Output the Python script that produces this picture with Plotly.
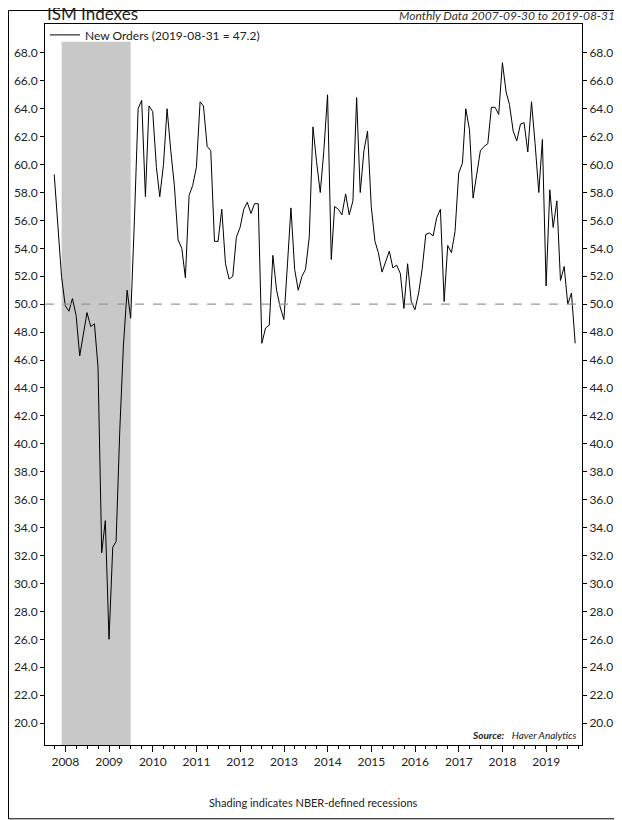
import plotly.graph_objects as go
import pandas as pd

new_orders = [
    59.3, 55.3, 52.0, 49.9,
    49.5, 50.4, 49.2, 46.3, 48.0, 49.4, 48.4, 48.6, 45.5, 32.2, 34.5, 26.0,
    32.6, 33.0, 41.0, 47.0, 51.0, 49.0, 56.0, 64.0, 64.6, 57.7, 64.2, 63.8,
    59.8, 57.7, 60.0, 64.0, 61.0, 58.5, 54.6, 54.0, 51.9, 57.8, 58.5, 59.8,
    64.5, 64.2, 61.3, 61.0, 54.5, 54.5, 56.8, 52.9, 51.8, 52.0, 54.8, 55.5,
    56.8, 57.3, 56.5, 57.2, 57.2, 47.2, 48.3, 48.5, 53.5, 51.0, 49.8, 48.9,
    53.0, 56.9, 52.5, 51.0, 52.0, 52.5, 54.8, 62.7, 60.2, 58.0, 61.0, 65.0,
    53.2, 57.0, 56.8, 56.4, 57.9, 56.4, 57.4, 64.8, 58.0, 61.0, 62.4, 57.0,
    54.5, 53.7, 52.3, 53.0, 53.8, 52.6, 52.8, 52.2, 49.7, 52.9, 50.2, 49.6,
    50.8, 52.5, 55.0, 55.1, 54.9, 56.2, 56.8, 50.2, 54.2, 53.7, 55.2, 59.4,
    60.1, 64.0, 62.5, 57.6, 59.5, 61.0, 61.3, 61.5, 64.1, 64.1, 63.6, 67.3,
    65.2, 64.3, 62.4, 61.7, 62.9, 63.0, 60.9, 64.5, 61.5, 58.0, 61.8, 51.3,
    58.2, 55.5, 57.4, 51.7, 52.7, 50.0, 50.8, 47.2,
]
dates = pd.date_range("2007-09-30", periods=len(new_orders), freq="ME")
year_ticks = [f"{y}-01-01" for y in range(2008, 2020)]
year_labels = [str(y) for y in range(2008, 2020)]
y_ticks = list(range(20, 70, 2))

W, H = 614, 812
L, R, T, B = 37, 40, 14, 75
pw, ph = W - L - R, H - T - B

fig = go.Figure()
fig.add_trace(go.Scatter(x=dates, y=new_orders, mode="lines",
                         line=dict(color="black", width=1),
                         name="New Orders (2019-08-31 = 47.2)"))
fig.add_trace(go.Scatter(x=dates, y=new_orders, yaxis="y2", mode="lines",
                         line=dict(width=0), showlegend=False, hoverinfo="skip"))

fig.add_shape(type="rect", xref="x", yref="y", x0="2007-12-01", x1="2009-06-30",
              y0=18.43, y1=68.8, fillcolor="#c8c8c8", line_width=0, layer="below")
fig.add_shape(type="line", xref="paper", yref="y", x0=0, x1=1, y0=50, y1=50,
              line=dict(color="#999999", width=1.3, dash="dash"))
fig.add_shape(type="rect", xref="paper", yref="paper",
              x0=-(L - 0.5) / pw, x1=1 + (R - 1) / pw, y0=-(B - 1) / ph, y1=1 + (T - 0.5) / ph,
              line=dict(color="black", width=1))

yr = [18.43, 70.07]
fig.update_layout(
    width=W, height=H, plot_bgcolor="white", paper_bgcolor="white",
    margin=dict(l=L, r=R, t=T, b=B),
    font=dict(family="Lato", size=12, color="#222"),
    showlegend=True,
    legend=dict(x=0.0, y=1.005, xanchor="left", yanchor="top", bgcolor="rgba(0,0,0,0)",
                font=dict(size=12), itemwidth=30, tracegroupgap=0),
    xaxis=dict(range=["2007-07-15", "2019-10-27"], tickvals=year_ticks, ticktext=year_labels,
               ticks="outside", ticklen=6, tickcolor="black", showgrid=False,
               showline=True, linecolor="black", mirror=True, automargin=False,
               minor=dict(dtick="M3", ticks="outside", ticklen=3, tickcolor="black"),
               tickfont=dict(size=12)),
    yaxis=dict(range=yr, tickvals=y_ticks, tickformat=".1f", ticks="outside", ticklen=4,
               tickcolor="black", showgrid=False, zeroline=False, automargin=False,
               showline=True, linecolor="black", mirror=True, tickfont=dict(size=12)),
    yaxis2=dict(range=yr, tickvals=y_ticks, tickformat=".1f", overlaying="y", side="right",
                ticks="outside", ticklen=4, tickcolor="black", showgrid=False, zeroline=False,
                automargin=False, tickfont=dict(size=12)),
    annotations=[
        dict(text="ISM Indexes", xref="paper", yref="paper", x=0.0, y=1.0, yshift=-2,
             xanchor="left", yanchor="bottom", showarrow=False, font=dict(size=17, color="#222")),
        dict(text="<i>Monthly Data 2007-09-30 to 2019-08-31</i>", xref="paper", yref="paper",
             x=1 + (R - 5) / pw, y=1.0, yshift=-1, xanchor="right", yanchor="bottom", showarrow=False,
             font=dict(size=12, color="#333")),
        dict(text="<b><i>Source:</i></b>   <i>Haver Analytics</i>", xref="paper", yref="paper",
             x=0.995, y=0.003, xanchor="right", yanchor="bottom", showarrow=False,
             font=dict(size=10)),
        dict(text="Shading indicates NBER-defined recessions", xref="paper", yref="paper",
             x=0.5, y=-0.08, xanchor="center", yanchor="middle", showarrow=False,
             font=dict(size=11)),
    ],
)
fig.write_html("out.html")
